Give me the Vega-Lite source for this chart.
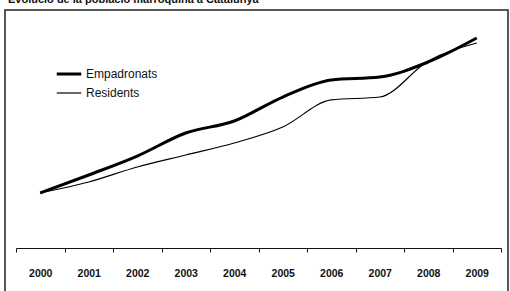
{
  "$schema": "https://vega.github.io/schema/vega-lite/v6.json",
  "autosize": "none",
  "width": 503,
  "height": 283,
  "padding": {"top": 10, "left": 5, "right": 2, "bottom": -2},
  "background": "white",
  "config": {
    "view": {"stroke": "#222", "strokeWidth": 1.5},
    "font": "Liberation Sans"
  },
  "title": {
    "text": "Evolució de la població marroquina a Catalunya",
    "anchor": "start",
    "dx": 3,
    "offset": 5,
    "fontSize": 11,
    "fontWeight": "bold",
    "font": "Liberation Sans",
    "color": "#111"
  },
  "data": {
    "values": [
      {"any": "2000", "serie": "Empadronats", "valor": 57.8},
      {"any": "2001", "serie": "Empadronats", "valor": 76.7},
      {"any": "2002", "serie": "Empadronats", "valor": 96.6},
      {"any": "2003", "serie": "Empadronats", "valor": 120.8},
      {"any": "2004", "serie": "Empadronats", "valor": 133.4},
      {"any": "2005", "serie": "Empadronats", "valor": 158.6},
      {"any": "2006", "serie": "Empadronats", "valor": 176.5},
      {"any": "2007", "serie": "Empadronats", "valor": 179.6},
      {"any": "2008", "serie": "Empadronats", "valor": 195.4},
      {"any": "2009", "serie": "Empadronats", "valor": 220.6},
      {"any": "2000", "serie": "Residents", "valor": 57.8},
      {"any": "2001", "serie": "Residents", "valor": 69.3},
      {"any": "2002", "serie": "Residents", "valor": 85.1},
      {"any": "2003", "serie": "Residents", "valor": 97.7},
      {"any": "2004", "serie": "Residents", "valor": 110.3},
      {"any": "2005", "serie": "Residents", "valor": 127.1},
      {"any": "2006", "serie": "Residents", "valor": 155.5},
      {"any": "2007", "serie": "Residents", "valor": 158.6},
      {"any": "2008", "serie": "Residents", "valor": 196.4},
      {"any": "2009", "serie": "Residents", "valor": 215.3}
    ]
  },
  "mark": {"type": "line", "interpolate": "monotone", "color": "black"},
  "encoding": {
    "x": {
      "field": "any",
      "type": "ordinal",
      "scale": {"type": "band", "range": [11, 496], "paddingInner": 0, "paddingOuter": 0},
      "axis": {
        "title": null,
        "orient": "bottom",
        "offset": -45,
        "tickBand": "extent",
        "domainColor": "#111",
        "domainWidth": 1,
        "tickColor": "#111",
        "tickSize": 4,
        "labelAngle": 0,
        "labelFontSize": 10.5,
        "labelFontWeight": "bold",
        "labelColor": "#111",
        "labelPadding": 16,
        "grid": false
      }
    },
    "y": {
      "field": "valor",
      "type": "quantitative",
      "scale": {"domain": [-47.27, 250], "nice": false, "zero": false},
      "axis": null
    },
    "strokeWidth": {
      "field": "serie",
      "type": "nominal",
      "scale": {"domain": ["Empadronats", "Residents"], "range": [3, 1.2]},
      "legend": {
        "title": null,
        "orient": "none",
        "legendX": 50,
        "legendY": 50,
        "symbolType": "stroke",
        "symbolSize": 600,
        "symbolStrokeColor": "black",
        "labelFontSize": 12,
        "labelColor": "#111",
        "labelOffset": 3,
        "rowPadding": -4
      }
    }
  }
}
